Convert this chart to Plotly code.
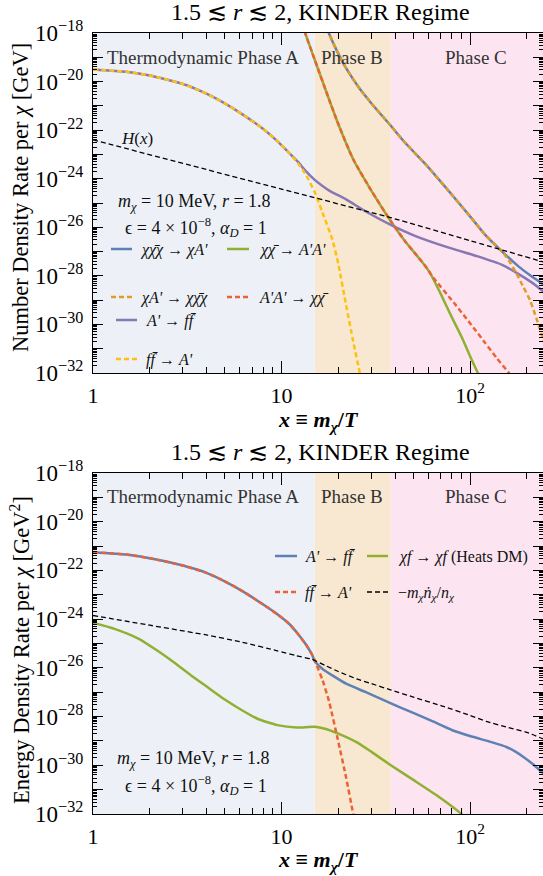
import plotly.graph_objects as go

# ---------------- data ----------------
phase_edges = [1, 15, 38, 250]
phase_names = ["Thermodynamic Phase A", "Phase B", "Phase C"]

# top panel: number density rates (log10 values)
x_Ap_ff_n = [1, 1.5, 2, 3, 4, 5, 6.2, 8, 9.5, 11, 12.2, 13.5, 15, 16.5, 18, 22, 28, 38, 51, 78, 110, 148, 183,
             215, 250]
e_Ap_ff_n = [-19.5, -19.6, -19.75, -20.1, -20.5, -20.9, -21.35, -21.95, -22.45, -22.95, -23.3, -23.7, -24.05,
             -24.3, -24.5, -24.85, -25.35, -25.9, -26.35, -26.85, -27.2, -27.55, -27.95, -28.3, -28.7]

x_ff_Ap_n = [1, 1.5, 2, 3, 4, 5, 6.2, 8, 9.5, 11, 12.2, 13.5, 15.1, 16.5, 18.6, 20, 22, 24, 26.1, 27.5]
e_ff_Ap_n = [-19.5, -19.6, -19.75, -20.1, -20.5, -20.9, -21.35, -21.95, -22.45, -22.95, -23.35, -23.85,
             -24.6, -25.4, -26.5, -27.5, -29.2, -30.7, -32.05, -33.0]

x_ann_AA = [12.5, 13.4, 15, 17.9, 20, 24, 30, 38, 45, 54, 58, 61, 64.5, 70, 80, 90, 102, 110, 118]
e_ann_AA = [-17.3, -18.04, -19.1, -20.75, -21.75, -23.2, -24.5, -25.75, -26.55, -27.3, -27.6, -27.85,
            -28.2, -28.75, -29.7, -30.5, -31.45, -32.0, -32.5]

x_AA_ann = [12.5, 13.4, 15, 17.9, 20, 24, 30, 38, 45, 54, 58, 63.5, 82, 100, 120, 139, 159, 175]
e_AA_ann = [-17.3, -18.04, -19.1, -20.75, -21.75, -23.2, -24.5, -25.75, -26.55, -27.3, -27.6, -28.05,
            -29.1, -29.95, -30.75, -31.4, -31.95, -32.4]

x_3to2 = [16.8, 17.9, 20, 22, 26, 30, 37.8, 45, 58, 75, 100, 120, 148, 180, 210, 250]
e_3to2 = [-17.5, -18.04, -18.85, -19.45, -20.3, -20.9, -21.8, -22.5, -23.4, -24.4, -25.55, -26.3,
          -27.0, -27.6, -28.0, -28.4]

x_2to3 = [16.8, 17.9, 20, 22, 26, 30, 37.8, 45, 58, 75, 100, 120, 148, 160, 175, 190, 208, 225, 244, 262]
e_2to3 = [-17.5, -18.04, -18.85, -19.45, -20.3, -20.9, -21.8, -22.5, -23.4, -24.4, -25.55, -26.3,
          -27.0, -27.35, -27.85, -28.4, -29.0, -29.75, -30.6, -31.4]

x_hub = [1, 10, 37.8, 100, 250]
e_hub = [-22.4, -24.43, -25.6, -26.55, -27.45]

# bottom panel: energy density rates (log10 values)
x_Ap_ff_e = [1, 1.5, 2, 3, 4, 5, 6.2, 8, 9.5, 11, 12.2, 13.5, 14.5, 15.1, 16.5, 18.5, 22, 28, 37.8, 50,
             63.5, 80, 100, 130, 156, 175, 192, 215, 250]
e_Ap_ff_e = [-21.25, -21.35, -21.5, -21.8, -22.1, -22.45, -22.85, -23.4, -23.8, -24.2, -24.6, -25.05, -25.45,
             -25.75, -26.05, -26.3, -26.65, -27.0, -27.45, -27.85, -28.2, -28.55, -28.8, -29.05, -29.25,
             -29.45, -29.66, -29.95, -30.4]

x_ff_Ap_e = [1, 1.5, 2, 3, 4, 5, 6.2, 8, 9.5, 11, 12.2, 13.5, 14.5, 15.1, 16.5, 17.9, 19.9, 22, 24, 25.5]
e_ff_Ap_e = [-21.25, -21.35, -21.5, -21.8, -22.1, -22.45, -22.85, -23.4, -23.8, -24.2, -24.6, -25.05, -25.45,
             -25.75, -26.5, -27.4, -28.95, -30.5, -32.0, -33.0]

x_heat = [1, 1.3, 1.74, 2.2, 2.66, 3.3, 4.06, 5, 6.2, 7.5, 9.5, 12, 15, 17, 20, 25, 30, 38, 50, 70, 90, 95]
e_heat = [-24.15, -24.4, -24.8, -25.3, -25.75, -26.3, -26.8, -27.3, -27.75, -28.1, -28.35, -28.45, -28.42,
          -28.5, -28.7, -29.05, -29.45, -30.0, -30.6, -31.35, -32.0, -32.2]

x_ndot = [1, 2, 4, 6.2, 9.5, 12, 14.5, 17, 20, 25, 30, 37.8, 50, 70, 100, 122, 160, 200, 250]
e_ndot = [-23.85, -24.25, -24.65, -24.95, -25.3, -25.5, -25.65, -25.9, -26.15, -26.45, -26.65, -26.9,
          -27.2, -27.55, -27.95, -28.2, -28.45, -28.65, -28.95]

# ---------------- styling ----------------
W, H = 543, 876
ML, MR, MT, MB = 93, 0, 33, 62
FONT = "Liberation Serif"
C_BLUE, C_ORANGE, C_GREEN, C_RED = "#5E81B5", "#E19C24", "#8FB032", "#EB6235"
C_PURPLE, C_YELLOW = "#8778B3", "#FFC010"
PHASE_COLORS = ["#EDF1F7", "#F9E8D1", "#FCE5F1"]


def pyp(p):
    return (H - MB - p) / (H - MT - MB)


def pxp(p):
    return (p - ML) / (W - ML - MR)


def pw(v):
    return [10 ** e for e in v]


fig = go.Figure()


def add(x, e, color, dash, xa, ya, width=2.5):
    fig.add_trace(go.Scatter(x=x, y=pw(e), mode="lines", xaxis=xa, yaxis=ya, showlegend=False,
                             line=dict(color=color, width=width, dash=dash, shape="spline", smoothing=0.5),
                             hoverinfo="skip"))


D = "5px,3px"
# top
add(x_3to2, e_3to2, C_BLUE, "solid", "x", "y")
add(x_ann_AA, e_ann_AA, C_GREEN, "solid", "x", "y")
add(x_Ap_ff_n, e_Ap_ff_n, C_PURPLE, "solid", "x", "y")
add(x_2to3, e_2to3, C_ORANGE, D, "x", "y")
add(x_AA_ann, e_AA_ann, C_RED, D, "x", "y")
add(x_ff_Ap_n, e_ff_Ap_n, C_YELLOW, D, "x", "y")
add(x_hub, e_hub, "black", "5px,3px", "x", "y", width=1.3)
# bottom
add(x_Ap_ff_e, e_Ap_ff_e, C_BLUE, "solid", "x2", "y2")
add(x_heat, e_heat, C_GREEN, "solid", "x2", "y2")
add(x_ff_Ap_e, e_ff_Ap_e, C_RED, D, "x2", "y2")
add(x_ndot, e_ndot, "black", "5px,3px", "x2", "y2", width=1.3)

shapes = []
for xr, yr in (("x", "y domain"), ("x2", "y2 domain")):
    for i in range(3):
        shapes.append(dict(type="rect", xref=xr, yref=yr, x0=phase_edges[i], x1=phase_edges[i + 1],
                           y0=0, y1=1, fillcolor=PHASE_COLORS[i], line=dict(width=0), layer="below"))

ann = []


def text(xp, yp, s, size=16, xanchor="center", color="#111", **kw):
    ann.append(dict(x=pxp(xp), y=pyp(yp), xref="paper", yref="paper", text=s, showarrow=False,
                    xanchor=xanchor, yanchor="middle", font=dict(family=FONT, size=size, color=color), **kw))


def legline(x0, x1, y, color, dash, width=2.5):
    shapes.append(dict(type="line", xref="paper", yref="paper", x0=pxp(x0), x1=pxp(x1), y0=pyp(y), y1=pyp(y),
                       line=dict(color=color, width=width, dash=dash)))


title = "1.5 ≲ <i>r</i> ≲ 2, KINDER Regime"
xtitle = "<b><i>x</i> ≡ <i>m</i><sub><i>χ</i></sub>/<i>T</i></b>"
params1 = "<i>m</i><sub><i>χ</i></sub> = 10 MeV, <i>r</i> = 1.8"
params2 = "ϵ = 4 × 10<sup>−8</sup>, <i>α</i><sub><i>D</i></sub> = 1"
chibar = "χ\u0304"
fbar = "f\u0304"

for off in (0, 440):
    text(320, 12 + off, title, size=24, color="black")
    text(203, 57 + off, phase_names[0], size=19, color="#333")
    text(352, 57 + off, phase_names[1], size=19, color="#333")
    text(476, 57 + off, phase_names[2], size=19, color="#333")
text(318, 421, xtitle, size=22, color="black")
text(318, 861, xtitle, size=22, color="black")

text(194, 202, params1, size=18)
text(196, 227, params2, size=18)
text(193, 759, params1, size=18)
text(196, 785, params2, size=18)
text(137, 138, "<i>H</i>(<i>x</i>)", size=17)

text(20, 198, "Number Density Rate per <i>χ</i> [GeV]", size=22.5, color="black", textangle=-90)
text(20, 650, "Energy Density Rate per <i>χ</i> [GeV<sup>2</sup>]", size=22.5, color="black", textangle=-90)

# top legend
legline(111, 132, 249, C_BLUE, "solid")
text(138, 250, f"<i>χ{chibar}χ</i> → <i>χA'</i>", xanchor="left")
legline(227, 249, 249, C_GREEN, "solid")
text(257, 250, f"<i>χ{chibar}</i> → <i>A'A'</i>", xanchor="left")
legline(111, 132, 297, C_ORANGE, D)
text(138, 298, f"<i>χA'</i> → <i>χ{chibar}χ</i>", xanchor="left")
legline(227, 249, 297, C_RED, D)
text(257, 298, f"<i>A'A'</i> → <i>χ{chibar}</i>", xanchor="left")
legline(116, 137, 320, C_PURPLE, "solid")
text(144, 321, f"<i>A'</i> → <i>f{fbar}</i>", xanchor="left")
legline(116, 137, 359, C_YELLOW, D)
text(144, 360, f"<i>f{fbar}</i> → <i>A'</i>", xanchor="left")

# bottom legend
legline(275, 297, 556, C_BLUE, "solid")
text(303, 557, f"<i>A'</i> → <i>f{fbar}</i>", xanchor="left")
legline(367, 388, 556, C_GREEN, "solid")
text(396, 557, "<i>χf</i> → <i>χf</i> (Heats DM)", xanchor="left")
legline(275, 297, 592, C_RED, D)
text(303, 593, f"<i>f{fbar}</i> → <i>A'</i>", xanchor="left")
legline(367, 388, 592, "black", D, width=1.6)
text(396, 593, "−<i>m</i><sub><i>χ</i></sub><i>ṅ</i><sub><i>χ</i></sub>/<i>n</i><sub><i>χ</i></sub>",
     xanchor="left")

# axes
ymaj = [10.0 ** k for k in range(-32, -17)]
ytxt = [(f"10<sup>−{-k}</sup>" if k % 2 == 0 else "") for k in range(-32, -17)]
ymin = [m * 10.0 ** k for k in range(-32, -18) for m in range(2, 10)]
xmaj = [1, 10, 100]
xtxt = ["1", "10", "10<sup>2</sup>"]
xmin = [m * 10.0 ** k for k in range(0, 3) for m in range(2, 10)]

xa = dict(type="log", range=[0, 2.387], tickmode="array", tickvals=xmaj, ticktext=xtxt,
          ticks="inside", ticklen=12, tickwidth=1.1, tickcolor="black", showline=True, linecolor="black",
          linewidth=1.3, mirror="allticks", showgrid=False, zeroline=False,
          minor=dict(tickmode="array", tickvals=xmin, ticks="inside", ticklen=6, tickwidth=0.9,
                     tickcolor="black", showgrid=False),
          tickfont=dict(family=FONT, size=22, color="black"), ticklabelstandoff=2)
ya = dict(type="log", range=[-32, -18], tickmode="array", tickvals=ymaj, ticktext=ytxt,
          ticks="inside", ticklen=10, tickwidth=1.1, tickcolor="black", showline=True, linecolor="black",
          linewidth=1.3, mirror="allticks", showgrid=False, zeroline=False,
          minor=dict(tickmode="array", tickvals=ymin, ticks="inside", ticklen=4, tickwidth=0.8,
                     tickcolor="black", showgrid=False),
          tickfont=dict(family=FONT, size=23, color="black"), ticklabelstandoff=4)

fig.update_layout(
    width=W, height=H, margin=dict(l=ML, r=MR, t=MT, b=MB),
    paper_bgcolor="white", plot_bgcolor="white",
    xaxis=dict(xa, domain=[0, 1], anchor="y"),
    yaxis=dict(ya, domain=[pyp(373), 1], anchor="x"),
    xaxis2=dict(xa, domain=[0, 1], anchor="y2"),
    yaxis2=dict(ya, domain=[0, pyp(473)], anchor="x2"),
    shapes=shapes, annotations=ann, showlegend=False,
    font=dict(family=FONT, color="black"),
)

fig.write_html("out.html")
